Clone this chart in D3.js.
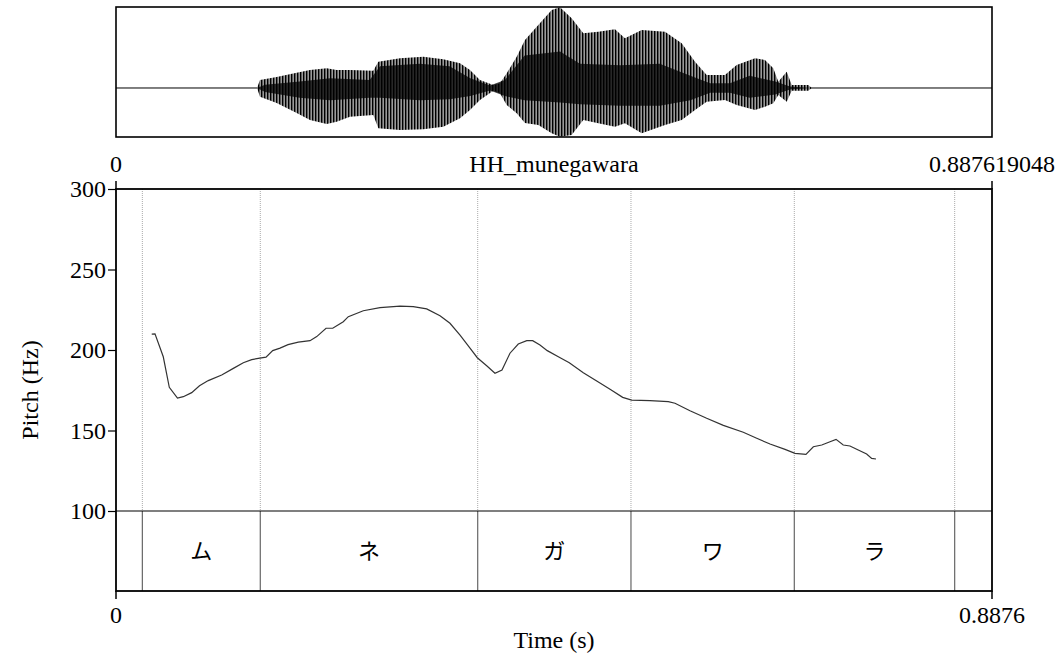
<!DOCTYPE html>
<html>
<head>
<meta charset="utf-8">
<script src="https://cdn.jsdelivr.net/npm/d3@7"></script>
<style>
  body { margin: 0; background: #fff; }
  text { font-family: "Liberation Serif", "Times New Roman", serif; fill: #000; }
  .kana { font-family: "Noto Sans CJK JP", sans-serif; }
</style>
</head>
<body>
<div class="vis"></div>
<script>
// file info
const fileName = "HH_munegawara";
const duration = 0.887619048;

// pitch track (time in s, Hz)
const pitchTime = [0.0362, 0.0395, 0.0479, 0.0540, 0.0623, 0.0682, 0.0767, 0.0846, 0.0935, 0.1071,
  0.1189, 0.1290, 0.1375, 0.1442, 0.1520, 0.1588, 0.1662, 0.1743, 0.1847, 0.1966,
  0.2034, 0.2128, 0.2196, 0.2303, 0.2354, 0.2506, 0.2675, 0.2878, 0.3012, 0.3148,
  0.3283, 0.3384, 0.3486, 0.3587, 0.3661, 0.3756, 0.3840, 0.3911, 0.3992, 0.4076,
  0.4162, 0.4222, 0.4296, 0.4370, 0.4482, 0.4593, 0.4735, 0.4871, 0.5006, 0.5134,
  0.5225, 0.5411, 0.5596, 0.5664, 0.5816, 0.5985, 0.6154, 0.6356, 0.6492, 0.6627,
  0.6779, 0.6880, 0.6991, 0.7066, 0.7151, 0.7235, 0.7296, 0.7369, 0.7437, 0.7521,
  0.7606, 0.7657, 0.7701];
const pitchHz = [209.9, 210.0, 195.8, 176.8, 170.1, 171.0, 173.5, 177.8, 181.0, 184.5,
  188.6, 192.1, 194.0, 194.8, 195.6, 199.6, 201.2, 203.3, 204.9, 205.8,
  208.3, 213.5, 213.5, 217.6, 220.7, 224.4, 226.3, 227.3, 226.9, 225.5,
  221.3, 216.6, 209.3, 201.1, 195.2, 190.2, 185.6, 187.6, 198.0, 203.7,
  205.8, 205.8, 203.1, 199.6, 195.8, 192.1, 185.9, 180.7, 175.6, 170.6,
  168.9, 168.5, 167.9, 166.9, 162.3, 157.6, 153.2, 148.9, 145.2, 141.6,
  138.3, 135.8, 135.2, 139.9, 141.0, 143.0, 144.5, 141.0, 140.4, 137.9,
  135.4, 132.7, 132.3];

// text tier
const boundaries = [0.0267, 0.1462, 0.3665, 0.5218, 0.6873, 0.8498];
const syllables = ["ム", "ネ", "ガ", "ワ", "ラ"];

// pitch axis ticks
const pitchTicks = [100, 150, 200, 250, 300];

// waveform envelope (outer max/min)
const waveTime = [0.1429, 0.1459, 0.1628, 0.1831, 0.1966, 0.2135, 0.2236, 0.2371, 0.2607, 0.2658,
  0.2878, 0.3114, 0.3316, 0.3486, 0.3587, 0.3688, 0.3823, 0.3891, 0.3959, 0.4060,
  0.4144, 0.4279, 0.4415, 0.4499, 0.4617, 0.4735, 0.4887, 0.5056, 0.5157, 0.5327,
  0.5563, 0.5732, 0.5867, 0.5985, 0.6170, 0.6289, 0.6475, 0.6576, 0.6660, 0.6711,
  0.6796, 0.6847, 0.7015, 0.7049];
const waveMax = [0, 0.099, 0.136, 0.189, 0.222, 0.243, 0.222, 0.222, 0.214, 0.325,
  0.367, 0.387, 0.354, 0.305, 0.222, 0.099, 0.037, 0.058, 0.181, 0.386,
  0.593, 0.778, 0.963, 0.996, 0.860, 0.675, 0.695, 0.724, 0.614, 0.716,
  0.695, 0.552, 0.325, 0.160, 0.160, 0.284, 0.367, 0.346, 0.243, 0.078,
  0.201, 0.037, 0.037, 0];
const waveMin = [0, -0.107, -0.185, -0.309, -0.395, -0.444, -0.416, -0.354, -0.333, -0.498,
  -0.519, -0.510, -0.478, -0.374, -0.272, -0.148, -0.033, -0.065, -0.210, -0.312,
  -0.432, -0.457, -0.559, -0.601, -0.580, -0.395, -0.436, -0.478, -0.436, -0.559,
  -0.457, -0.395, -0.272, -0.169, -0.148, -0.210, -0.272, -0.231, -0.189, -0.086,
  -0.169, -0.033, -0.033, 0];

// dense core of the waveform
const coreTime = [0.1429, 0.151, 0.186, 0.217, 0.257, 0.2675, 0.308, 0.338, 0.359, 0.379,
  0.394, 0.414, 0.450, 0.470, 0.511, 0.551, 0.582, 0.602, 0.622, 0.642, 0.668, 0.683, 0.7049];
const coreMax = [0, 0.04, 0.08, 0.12, 0.10, 0.27, 0.30, 0.27, 0.12, 0.03,
  0.10, 0.40, 0.45, 0.30, 0.28, 0.30, 0.15, 0.06, 0.06, 0.15, 0.08, 0.02, 0];
const coreMin = [0, -0.05, -0.12, -0.15, -0.12, -0.12, -0.15, -0.14, -0.10, -0.03,
  -0.10, -0.15, -0.18, -0.20, -0.22, -0.22, -0.15, -0.06, -0.06, -0.12, -0.08, -0.02, 0];

const W = 1061, H = 659;
const left = 116, right = 992;

const svg = d3.select(".vis")
  .append("svg")
  .attr("width", W)
  .attr("height", H);

// scales
const x = d3.scaleLinear().domain([0, duration]).range([left, right]);
const yWave = d3.scaleLinear().domain([-0.605, 1]).range([137, 7]);
const yPitch = d3.scaleLinear().domain([100, 300]).range([511, 189]);
const tierBottom = 591;

// ---- waveform panel ----
const defs = svg.append("defs");
const pat = defs.append("pattern")
  .attr("id", "stripes")
  .attr("patternUnits", "userSpaceOnUse")
  .attr("width", 3)
  .attr("height", 10);
pat.append("rect").attr("width", 3).attr("height", 10).attr("fill", "#9a9a9a");
pat.append("rect").attr("width", 1.4).attr("height", 10).attr("fill", "#000");

svg.append("line")
  .attr("x1", left).attr("x2", right)
  .attr("y1", yWave(0)).attr("y2", yWave(0))
  .attr("stroke", "#000").attr("stroke-width", 1);

const waveArea = d3.area()
  .x(d => x(d.t))
  .y0(d => yWave(d.lo))
  .y1(d => yWave(d.hi));

const wave = waveTime.map((t, i) => ({ t: t, hi: waveMax[i], lo: waveMin[i] }));
const core = coreTime.map((t, i) => ({ t: t, hi: coreMax[i], lo: coreMin[i] }));

svg.append("path")
  .datum(wave)
  .attr("fill", "url(#stripes)")
  .attr("d", waveArea);

svg.append("path")
  .datum(core)
  .attr("fill", "#000")
  .attr("opacity", 0.75)
  .attr("d", waveArea);

svg.append("rect")
  .attr("x", left).attr("y", 7)
  .attr("width", right - left).attr("height", 130)
  .attr("fill", "none").attr("stroke", "#000").attr("stroke-width", 1.6);

// labels under waveform
svg.append("text").attr("x", left).attr("y", 172).attr("text-anchor", "middle")
  .style("font-size", "24px").text("0");
svg.append("text").attr("x", (left + right) / 2).attr("y", 172).attr("text-anchor", "middle")
  .style("font-size", "24px").text(fileName);
svg.append("text").attr("x", 1055).attr("y", 172).attr("text-anchor", "end")
  .style("font-size", "24px").text(String(duration));

// ---- pitch panel ----
const g = svg.append("g");

// dotted boundary lines in the pitch area
g.selectAll(".bdot")
  .data(boundaries)
  .enter().append("line")
  .attr("x1", d => x(d)).attr("x2", d => x(d))
  .attr("y1", yPitch(300)).attr("y2", yPitch(100))
  .attr("stroke", "#aaa")
  .attr("stroke-width", 1)
  .attr("stroke-dasharray", "1,1");

// solid boundary lines in the tier
g.selectAll(".bsolid")
  .data(boundaries)
  .enter().append("line")
  .attr("x1", d => x(d)).attr("x2", d => x(d))
  .attr("y1", yPitch(100)).attr("y2", tierBottom)
  .attr("stroke", "#666")
  .attr("stroke-width", 1.2);

// tier separator
g.append("line")
  .attr("x1", left).attr("x2", right)
  .attr("y1", yPitch(100)).attr("y2", yPitch(100))
  .attr("stroke", "#000").attr("stroke-width", 1.2);

// syllable labels
g.selectAll(".kana")
  .data(syllables)
  .enter().append("text")
  .attr("class", "kana")
  .attr("x", (d, i) => (x(boundaries[i]) + x(boundaries[i + 1])) / 2)
  .attr("y", (yPitch(100) + tierBottom) / 2)
  .attr("dy", "0.35em")
  .attr("text-anchor", "middle")
  .style("font-size", "22px")
  .text(d => d);

// pitch curve
const pitch = pitchTime.map((t, i) => ({ t: t, hz: pitchHz[i] }));
const line = d3.line()
  .x(d => x(d.t))
  .y(d => yPitch(d.hz));

g.append("path")
  .datum(pitch)
  .attr("fill", "none")
  .attr("stroke", "#333")
  .attr("stroke-width", 1.2)
  .attr("d", line);

// frame
g.append("rect")
  .attr("x", left).attr("y", yPitch(300))
  .attr("width", right - left).attr("height", tierBottom - yPitch(300))
  .attr("fill", "none").attr("stroke", "#000").attr("stroke-width", 1.8);

// y axis ticks
const yAxis = d3.axisLeft(yPitch)
  .tickValues(pitchTicks)
  .tickSize(8)
  .tickPadding(2)
  .tickFormat(d3.format("d"));
const ya = g.append("g")
  .attr("transform", "translate(" + left + ",0)")
  .call(yAxis)
  .attr("font-family", null)
  .attr("font-size", null);
ya.select(".domain").remove();
ya.selectAll("line").attr("stroke-width", 1.2);
ya.selectAll("text").style("font-size", "24px");

// small ticks at the corners of the time axis
[0, duration].forEach(t => {
  g.append("line").attr("x1", x(t)).attr("x2", x(t))
    .attr("y1", yPitch(300) - 8).attr("y2", yPitch(300))
    .attr("stroke", "#000").attr("stroke-width", 1.5);
  g.append("line").attr("x1", x(t)).attr("x2", x(t))
    .attr("y1", tierBottom).attr("y2", tierBottom + 8)
    .attr("stroke", "#000").attr("stroke-width", 1.5);
});

// time labels
g.append("text").attr("x", x(0)).attr("y", 623).attr("text-anchor", "middle")
  .style("font-size", "24px").text("0");
g.append("text").attr("x", x(duration)).attr("y", 623).attr("text-anchor", "middle")
  .style("font-size", "24px").text(duration.toFixed(4));

// axis titles
g.append("text")
  .attr("x", (left + right) / 2)
  .attr("y", 648)
  .attr("text-anchor", "middle")
  .style("font-size", "24px")
  .text("Time (s)");

g.append("text")
  .attr("transform", "rotate(-90)")
  .attr("x", -(yPitch(300) + tierBottom) / 2)
  .attr("y", 30)
  .attr("dy", "0.35em")
  .attr("text-anchor", "middle")
  .style("font-size", "24px")
  .text("Pitch (Hz)");
</script>
</body>
</html>
